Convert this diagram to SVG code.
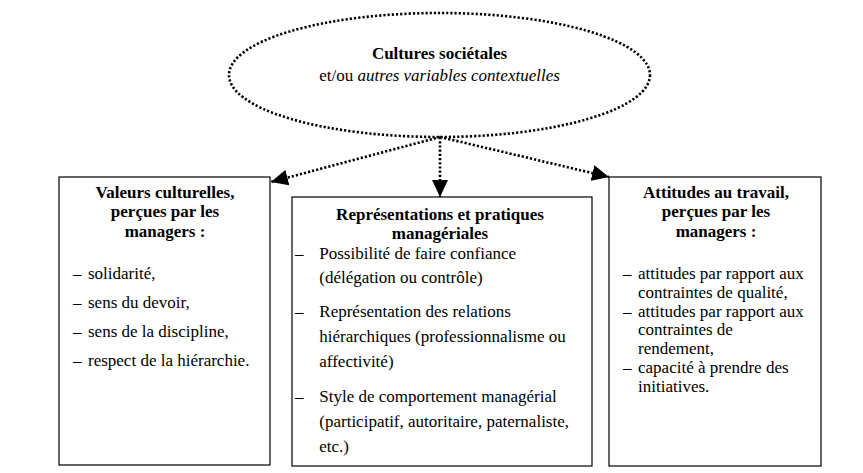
<svg xmlns="http://www.w3.org/2000/svg" width="863" height="473" viewBox="0 0 863 473">
<style>
.box{fill:#fff;stroke:#000;stroke-width:1.2}
.ell{fill:none;stroke:#000;stroke-width:2.6;stroke-dasharray:2.2 2}
.con{fill:none;stroke:#000;stroke-width:2.6;stroke-dasharray:2.2 2}
text{font-family:'Liberation Serif','Times New Roman',Times,serif;font-size:17px;fill:#000}
.t{font-weight:bold;text-anchor:middle}
.c{text-anchor:middle}
</style>
<defs>
<marker id="arr" markerUnits="userSpaceOnUse" markerWidth="17" markerHeight="16" viewBox="0 0 17 16" refX="17" refY="8" orient="auto">
<path d="M0,0 L17,8 L0,16 z" fill="#000"/>
</marker>
</defs>
<rect width="863" height="473" fill="#fff"/>
<g id="cultures">
<ellipse class="ell" cx="439.5" cy="75" rx="210.5" ry="62"/>
<text class="t" x="439.5" y="58.5">Cultures sociétales</text>
<text class="c" x="439.5" y="80.5">et/ou <tspan font-style="italic">autres variables contextuelles</tspan></text>
</g>
<g id="connectors">
<line class="con" x1="440" y1="137" x2="271" y2="182" marker-end="url(#arr)"/>
<line class="con" x1="440" y1="137" x2="440" y2="197" marker-end="url(#arr)"/>
<line class="con" x1="440" y1="137" x2="609" y2="177" marker-end="url(#arr)"/>
</g>
<g id="valeurs">
<rect class="box" x="59" y="177" width="211" height="288"/>
<text class="t" x="165" y="198">Valeurs culturelles,</text>
<text class="t" x="165" y="217.3">perçues par les</text>
<text class="t" x="165" y="236.7">managers :</text>
<text x="73" y="279">–</text><text x="88" y="279">solidarité,</text>
<text x="73" y="308">–</text><text x="88" y="308">sens du devoir,</text>
<text x="73" y="337">–</text><text x="88" y="337">sens de la discipline,</text>
<text x="73" y="366">–</text><text x="88" y="366">respect de la hiérarchie.</text>
</g>
<g id="representations">
<rect class="box" x="292" y="197" width="300" height="269"/>
<text class="t" x="440" y="220">Représentations et pratiques</text>
<text class="t" x="440" y="238.7">managériales</text>
<text x="295" y="259.3">–</text><text x="319.3" y="259.3">Possibilité de faire confiance</text>
<text x="319.3" y="283">(délégation ou contrôle)</text>
<text x="295" y="317">–</text><text x="319.3" y="317">Représentation des relations</text>
<text x="319.3" y="342">hiérarchiques (professionnalisme ou</text>
<text x="319.3" y="367">affectivité)</text>
<text x="295" y="402">–</text><text x="319.3" y="402">Style de comportement managérial</text>
<text x="319.3" y="427">(participatif, autoritaire, paternaliste,</text>
<text x="319.3" y="451.5">etc.)</text>
</g>
<g id="attitudes">
<rect class="box" x="609" y="177" width="212" height="289"/>
<text class="t" x="716" y="198">Attitudes au travail,</text>
<text class="t" x="716" y="217.3">perçues par les</text>
<text class="t" x="716" y="236.7">managers :</text>
<text x="623" y="279">–</text><text x="638" y="279">attitudes par rapport aux</text>
<text x="638" y="297.7">contraintes de qualité,</text>
<text x="623" y="316.7">–</text><text x="638" y="316.7">attitudes par rapport aux</text>
<text x="638" y="335">contraintes de</text>
<text x="638" y="353.5">rendement,</text>
<text x="623" y="372.7">–</text><text x="638" y="372.7">capacité à prendre des</text>
<text x="638" y="391.7">initiatives.</text>
</g>
</svg>
